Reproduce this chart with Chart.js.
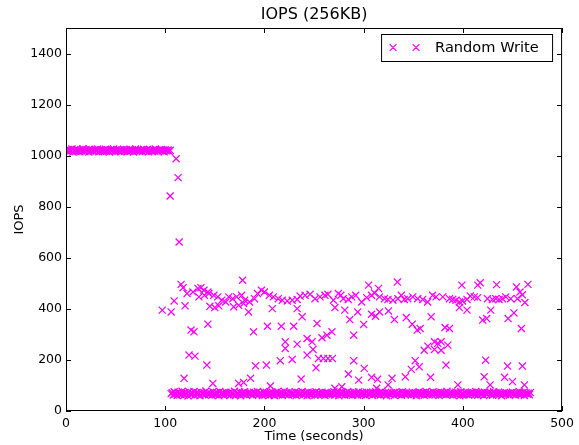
<!DOCTYPE html>
<html>
<head>
<meta charset="utf-8">
<script src="https://cdn.jsdelivr.net/npm/chart.js@4/dist/chart.umd.min.js"></script>
<style>
  html, body { margin: 0; padding: 0; background: #fff; }
  canvas { display: block; }
</style>
</head>
<body>
<canvas id="chart" width="579" height="445"></canvas>
<script>
const chartTitle = "IOPS (256KB)";
const xTitle = "Time (seconds)";
const yTitle = "IOPS";
const seriesLabel = "Random Write";
const xTicks = [0, 100, 200, 300, 400, 500];
const yTicks = [0, 200, 400, 600, 800, 1000, 1200, 1400];

// steady phase, one sample per second from t = 0
const steadyIops = [
  1021,1018,1024,1016,1022,1019,1026,1014,1020,1023,1017,1025,1019,1021,1015,1022,1018,1027,1020,1016,
  1023,1019,1021,1014,1025,1018,1022,1020,1017,1024,1019,1021,1026,1015,1020,1018,1023,1016,1022,1019,
  1025,1017,1021,1020,1014,1023,1018,1022,1026,1019,1016,1021,1024,1018,1020,1015,1022,1019,1025,1017,
  1021,1023,1016,1020,1018,1024,1019,1022,1014,1021,1026,1018,1020,1023,1017,1019,1022,1016,1025,1020,
  1018,1021,1024,1015,1019,1022,1020,1017,1023,1018,1026,1021,1019,1016,1022,1020,1024,1018,1021,1015,
  1023,1019,1020,1022,1017,1021
];

// low band after the drop, one sample per second from t = 106
const lowStart = 106;
const lowIops = [
  68,72,63,75,66,70,61,74,67,71,64,77,69,62,73,66,70,59,75,68,
  64,71,67,76,62,69,73,65,70,60,74,68,66,72,63,78,67,70,64,71,
  69,62,75,66,71,64,73,68,60,76,67,70,65,72,63,74,69,66,71,61,
  73,67,70,64,77,62,68,71,66,74,60,69,72,65,75,67,63,70,68,73,
  66,70,62,74,68,71,65,76,63,69,72,67,61,75,70,64,73,66,69,62,
  71,65,74,68,60,72,67,75,64,70,66,73,62,69,77,65,71,68,63,74,
  67,72,64,70,66,75,61,69,73,65,71,68,76,63,70,67,72,60,74,66,
  70,63,73,67,71,62,75,68,65,72,69,64,74,66,70,61,73,68,71,65,
  64,69,72,66,75,63,70,67,73,60,71,68,65,74,69,62,72,67,76,64,
  72,66,70,63,74,68,65,71,62,75,67,70,64,73,66,69,61,74,68,71,
  65,73,68,62,71,66,75,69,64,70,72,63,76,67,70,65,73,60,69,71,
  68,64,72,67,70,61,74,66,71,65,73,69,62,75,68,70,64,72,66,69,
  71,67,63,74,69,65,72,60,70,68,75,64,71,66,73,62,69,76,65,70,
  66,72,68,64,75,70,63,71,67,73,61,69,74,65,70,68,72,64,77,67,
  70,65,73,69,62,71,67,74,64,72,68,60,75,66,70,63,73,69,65,71,
  63,70,66,74,68,71,64,76,69,62,72,67,70,65,73,61,74,68,66,72,
  69,73,65,70,62,75,67,71,64,68,74,66,72,60,70,67,73,65,71,68,
  67,62,71,68,74,65,70,63,72,69,66,75,64,70,68,73,61,69,71,66,
  70,64,72
];

// scattered samples (drop + upper / middle spread)
const scatterTimes = [
  97,105,106,109,111,113,114,116,118,119,120,122,124,126,128,129,130,133,134,136,
  139,139.5,142,143,143,144,145,148,149,150,153,154,
  157,161,164,168,169,172,174,174,177,178,179,179,180,184,185,186,189,190,191,193,
  197,200,202,203,205,206,208,209,214,216,217,218,221,221,223,228,228,229.5,233,233,
  233,236,237,238,241,243,243,246,248,249,251,252,253,256,258,261,263,264,
  254.5,259.5,264,268.5,268,269.5,271,271,274.5,277,278,279.5,281,284.5,284.6,286,288,290,290,292,
  294,295,298,300,300.6,303,305,308,308,308,311,312,313,314,315,316,316,321,324.5,324.7,
  325,328.6,329.5,331,334,334.5,338,341,342,343,344.5,348,349,349.5,352,354,354.5,356,357,359.5,
  361,364.5,369.5,373,364.7,367.4,368,371.4,371.4,374.7,378.1,378.1,379.8,382,383,384.8,386.5,386.5,389.8,393.1,
  395,396.5,396.5,399,399.8,404.2,404.2,407.5,411.5,414.8,415,417.5,420,421.5,423,424,424.8,427.5,428.1,429.8,
  433.2,434,436.5,439.9,442,443.2,445,445.6,448.2,450,451.5,454,455,457.6,459,460,460,462,462.5,465.6
];
const scatterIops = [
  395,842,388,431,988,914,662,496,483,128,412,460,219,317,466,310,215,480,447,483,
  473,453,180,340,466,460,410,108,453,405,447,412,
  434,427,447,440,408,447,414,108,453,512,421,112,434,388,427,128,310,440,177,460,
  473,466,180,332,453,98,401,447,440,197,332,434,271,245,431,434,202,332,437,401,
  262,450,125,369,453,284,219,457,271,241,440,169,343,447,287,453,297,457,
  206,206,206,206,310,434,405,89,460,453,95,440,395,437,145,358,447,297,197,453,
  388,121,427,339,167,444,493,453,379,132,462,371,89,124,480,447,388,440,437,102,
  392,128,434,358,505,440,453,437,134,366,440,163,340,447,197,317,440,173,323,437,
  238,427,453,447,254,132,369,271,241,265,271,238,447,327,180,258,440,323,437,434,
  102,427,405,493,431,437,395,450,447,444,493,502,356,134,199,362,440,102,395,437,
  440,495,437,440,132,447,176,362,440,115,384,486,440,466,323,176,455,102,425,496
];

const points = [];
steadyIops.forEach((v, i) => points.push({ x: i, y: v }));
lowIops.forEach((v, i) => points.push({ x: lowStart + i, y: v }));
scatterTimes.forEach((t, i) => points.push({ x: t, y: scatterIops[i] }));

const markerColor = "#ff00ff";
const fontFamily = "'DejaVu Sans', sans-serif";

// matplotlib-like frame: box, inward ticks on all sides, titles, legend
const framePlugin = {
  id: "frame",
  afterDraw(chart) {
    const { ctx, chartArea: a, scales } = chart;
    ctx.save();
    ctx.strokeStyle = "#000";
    ctx.lineWidth = 1;
    ctx.strokeRect(a.left + 0.5, a.top + 0.5, a.right - a.left - 1, a.bottom - a.top - 1);

    const tl = 5;
    ctx.beginPath();
    xTicks.forEach((v) => {
      const px = Math.round(scales.x.getPixelForValue(v)) + 0.5;
      ctx.moveTo(px, a.bottom); ctx.lineTo(px, a.bottom - tl);
      ctx.moveTo(px, a.top); ctx.lineTo(px, a.top + tl);
    });
    yTicks.forEach((v) => {
      const py = Math.round(scales.y.getPixelForValue(v)) + 0.5;
      ctx.moveTo(a.left, py); ctx.lineTo(a.left + tl, py);
      ctx.moveTo(a.right, py); ctx.lineTo(a.right - tl, py);
    });
    ctx.stroke();

    ctx.fillStyle = "#000";
    ctx.textAlign = "center";
    ctx.textBaseline = "middle";
    const cx = (a.left + a.right) / 2;
    ctx.font = "16px " + fontFamily;
    ctx.fillText(chartTitle, cx, 15);
    ctx.font = "13px " + fontFamily;
    ctx.fillText(xTitle, cx, 437);
    ctx.save();
    ctx.translate(20, (a.top + a.bottom) / 2);
    ctx.rotate(-Math.PI / 2);
    ctx.fillText(yTitle, 0, 0);
    ctx.restore();

    // legend box
    const bw = 171, bh = 27;
    const bx = a.right - 10 - bw, by = a.top + 6;
    ctx.fillStyle = "#fff";
    ctx.fillRect(bx, by, bw, bh);
    ctx.strokeRect(bx + 0.5, by + 0.5, bw, bh);
    const my = by + bh / 2;
    ctx.strokeStyle = markerColor;
    ctx.lineWidth = 1.2;
    ctx.beginPath();
    [bx + 12, bx + 35].forEach((mx) => {
      ctx.moveTo(mx - 3.4, my - 3.4); ctx.lineTo(mx + 3.4, my + 3.4);
      ctx.moveTo(mx - 3.4, my + 3.4); ctx.lineTo(mx + 3.4, my - 3.4);
    });
    ctx.stroke();
    ctx.fillStyle = "#000";
    ctx.textAlign = "left";
    ctx.font = "14.6px " + fontFamily;
    ctx.fillText(seriesLabel, bx + 54, my + 1);
    ctx.restore();
  },
};

new Chart(document.getElementById("chart"), {
  type: "scatter",
  data: {
    datasets: [
      {
        label: seriesLabel,
        data: points,
        pointStyle: "crossRot",
        pointRadius: 5,
        pointHoverRadius: 5,
        borderColor: markerColor,
        backgroundColor: markerColor,
        borderWidth: 1.25,
      },
    ],
  },
  plugins: [framePlugin],
  options: {
    responsive: false,
    animation: false,
    devicePixelRatio: 1,
    layout: { padding: { top: 28, right: 14, left: 0, bottom: 0 } },
    plugins: {
      legend: { display: false },
      title: { display: false },
      tooltip: { enabled: false },
    },
    scales: {
      x: {
        type: "linear",
        min: 0,
        max: 500,
        grid: { display: false, drawTicks: false },
        border: { display: false },
        afterBuildTicks: (s) => { s.ticks = xTicks.map((v) => ({ value: v })); },
        afterFit: (s) => { s.height = 34; },
        ticks: {
          padding: 5,
          color: "#000",
          maxRotation: 0,
          callback: (v) => String(v),
          font: { family: fontFamily, size: 12.5 },
        },
      },
      y: {
        type: "linear",
        min: 0,
        max: 1500,
        grid: { display: false, drawTicks: false },
        border: { display: false },
        afterBuildTicks: (s) => { s.ticks = yTicks.map((v) => ({ value: v })); },
        afterFit: (s) => { s.width = 66; },
        ticks: {
          padding: 4,
          color: "#000",
          callback: (v) => String(v),
          font: { family: fontFamily, size: 12.5 },
        },
      },
    },
  },
});
</script>
</body>
</html>
